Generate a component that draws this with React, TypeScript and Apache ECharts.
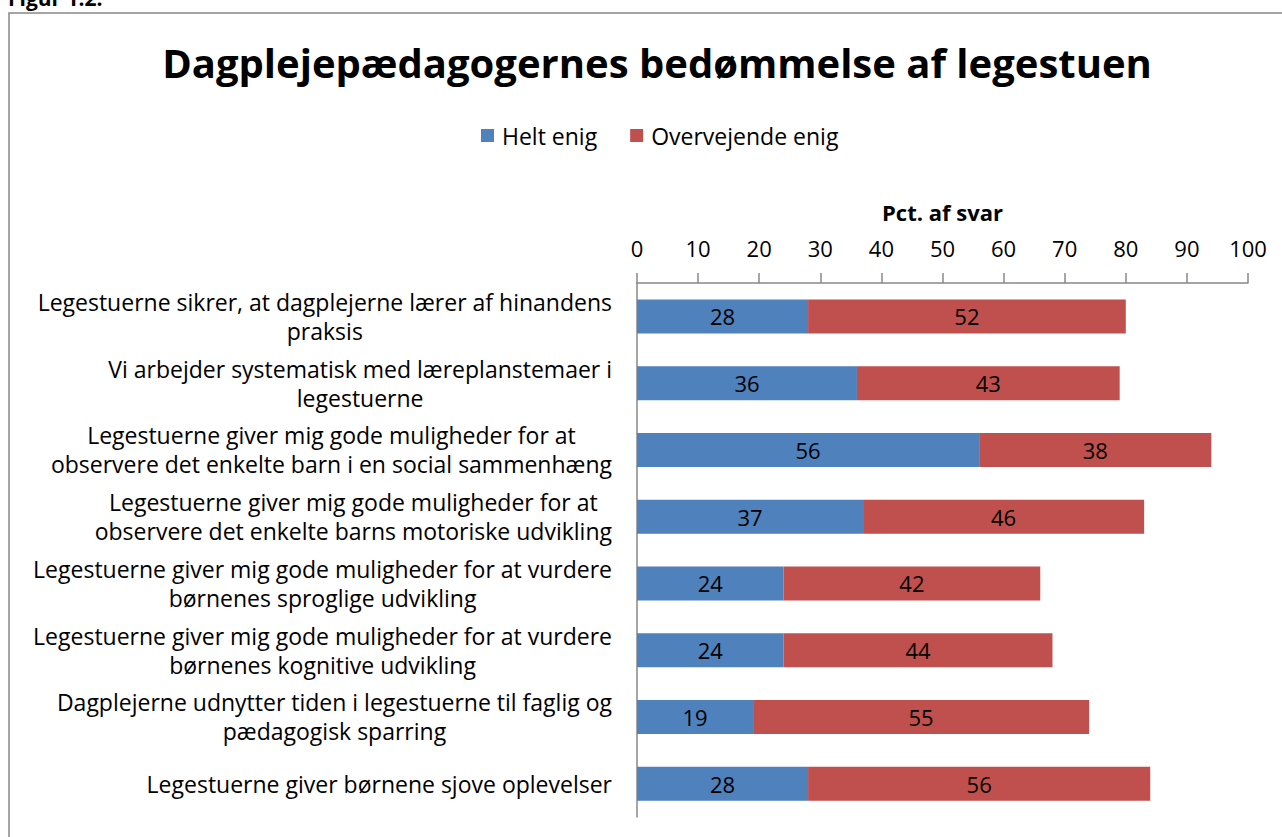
import React, { useEffect, useRef } from "react";
import * as echarts from "echarts";

const categories: string[] = [
  "Legestuerne sikrer, at dagplejerne lærer af hinandens\npraksis",
  "Vi arbejder systematisk med læreplanstemaer i\nlegestuerne",
  "Legestuerne giver mig gode muligheder for at\nobservere det enkelte barn i en social sammenhæng",
  "Legestuerne giver mig gode muligheder for at\nobservere det enkelte barns motoriske udvikling",
  "Legestuerne giver mig gode muligheder for at vurdere\nbørnenes sproglige udvikling",
  "Legestuerne giver mig gode muligheder for at vurdere\nbørnenes kognitive udvikling",
  "Dagplejerne udnytter tiden i legestuerne til faglig og\npædagogisk sparring",
  "Legestuerne giver børnene sjove oplevelser",
];
const heltEnig: number[] = [28, 36, 56, 37, 24, 24, 19, 28];
const overvejendeEnig: number[] = [52, 43, 38, 46, 42, 44, 55, 56];
const seriesNames: string[] = ["Helt enig", "Overvejende enig"];
const titleText = "Dagplejepædagogernes bedømmelse af legestuen";
const figureText = "Figur 1.2.";
const axisTitle = "Pct. af svar";

const FONT = "Open Sans";
const FS = 23;

export default function App() {
  const ref = useRef<HTMLDivElement>(null);
  useEffect(() => {
    if (!ref.current) return;
    const chart = echarts.init(ref.current, undefined, { renderer: "svg" });
    const labelRich = {
      c: { align: "center" as const, fontSize: FS, fontFamily: FONT, color: "#000", lineHeight: 29 },
    };
    chart.setOption({
      animation: false,
      backgroundColor: "#fff",
      textStyle: { fontFamily: FONT },
      graphic: [
        {
          type: "rect",
          shape: { x: 9, y: 13, width: 1300, height: 900 },
          style: { fill: "none", stroke: "#888", lineWidth: 1.5 },
          silent: true,
        },
        {
          type: "text",
          x: 8,
          y: 8,
          style: {
            text: figureText,
            fontFamily: FONT,
            fontWeight: "bold",
            fontSize: 21,
            fill: "#000",
            textVerticalAlign: "bottom",
          },
        },
      ],
      title: {
        text: titleText,
        left: 652,
        textAlign: "center",
        top: 37,
        textStyle: { fontFamily: FONT, fontWeight: "bold", fontSize: 40, color: "#000" },
      },
      legend: {
        top: 119,
        left: 476,
        icon: "rect",
        itemWidth: 13,
        itemHeight: 13,
        itemGap: 33,
        textStyle: { fontFamily: FONT, fontSize: FS, color: "#000", padding: [0, 0, 0, 3] },
        data: seriesNames,
      },
      grid: { left: 637, right: 34, top: 283, bottom: 20, containLabel: false },
      xAxis: {
        type: "value",
        position: "top",
        min: 0,
        max: 100,
        interval: 10,
        name: axisTitle,
        nameLocation: "middle",
        nameGap: 60,
        nameTextStyle: { fontFamily: FONT, fontWeight: "bold", fontSize: 22, color: "#000" },
        axisLine: { show: true, lineStyle: { color: "#888", width: 1.5 } },
        axisTick: { show: true, length: 10, lineStyle: { color: "#888", width: 1.5 } },
        axisLabel: { margin: 24, fontFamily: FONT, fontSize: 22, color: "#000" },
        splitLine: { show: false },
      },
      yAxis: {
        type: "category",
        inverse: true,
        data: categories,
        axisLine: { show: true, lineStyle: { color: "#888", width: 1.5 } },
        axisTick: { show: false },
        axisLabel: {
          margin: 25,
          align: "right",
          formatter: (v: string) => v.split("\n").map((l) => `{c|${l}}`).join("\n"),
          rich: labelRich,
        },
      },
      series: [
        {
          name: seriesNames[0],
          type: "bar",
          stack: "total",
          data: heltEnig,
          barWidth: 34,
          itemStyle: { color: "#4F81BD" },
          label: { show: true, position: "inside", color: "#000", fontSize: 22, fontFamily: FONT },
        },
        {
          name: seriesNames[1],
          type: "bar",
          stack: "total",
          data: overvejendeEnig,
          barWidth: 34,
          itemStyle: { color: "#C0504D" },
          label: { show: true, position: "inside", color: "#000", fontSize: 22, fontFamily: FONT },
        },
      ],
    });
    return () => chart.dispose();
  }, []);
  return (
    <div
      ref={ref}
      style={{ position: "fixed", left: 0, top: 0, width: 1282, height: 837 }}
    />
  );
}
